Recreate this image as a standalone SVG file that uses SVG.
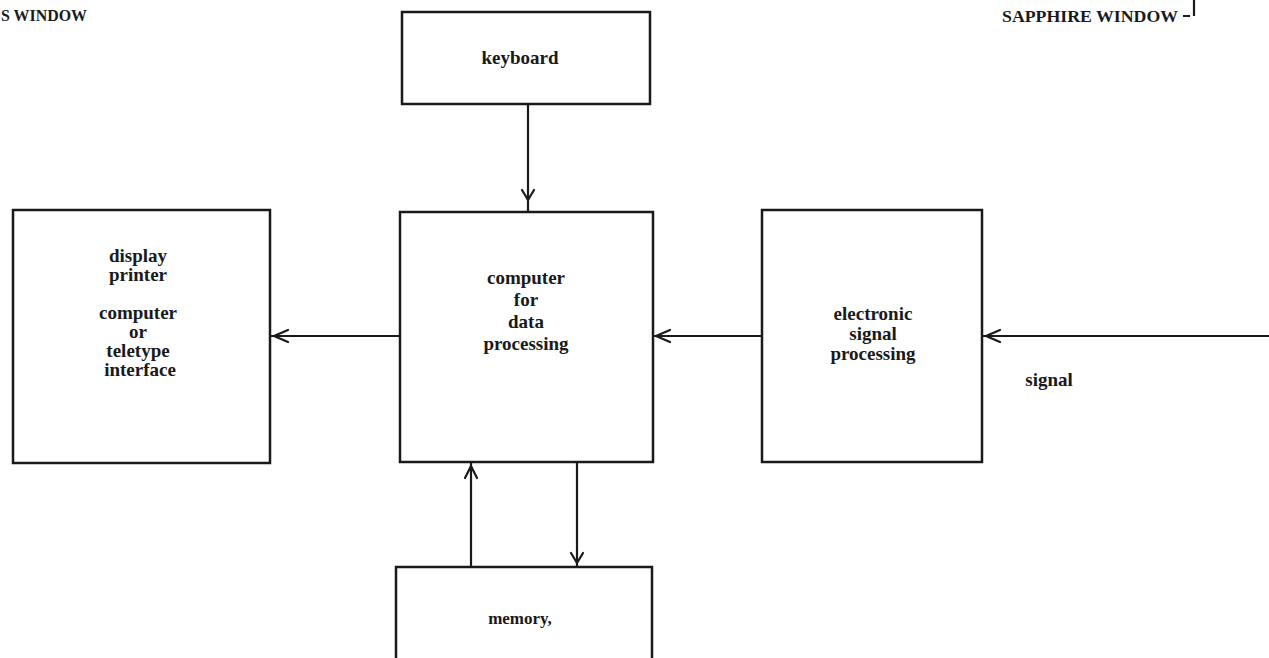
<svg xmlns="http://www.w3.org/2000/svg" width="1269" height="658" viewBox="0 0 1269 658">
<style>
.box{fill:none;stroke:#1a1a1a;stroke-width:2.5}
.ln{fill:none;stroke:#1a1a1a;stroke-width:2.2}
.ah{fill:none;stroke:#1a1a1a;stroke-width:2.2;stroke-linecap:round;stroke-linejoin:round}
.t{font-family:"Liberation Serif",serif;font-size:19px;font-weight:bold;fill:#1a1a1a;text-anchor:middle}
.hd{font-family:"Liberation Serif",serif;font-size:17px;font-weight:bold;fill:#1a1a1a}
</style>
<rect width="1269" height="658" fill="#ffffff"/>
<g id="labels">
<text class="hd" x="1" y="21" textLength="86" lengthAdjust="spacingAndGlyphs">S WINDOW</text>
<text class="hd" x="1002" y="22" textLength="176" lengthAdjust="spacingAndGlyphs">SAPPHIRE WINDOW</text>
<path class="ln" d="M1183 16 H1190 M1194 0 V16" stroke-width="1.8"/>
</g>
<g id="keyboard">
<rect class="box" x="402" y="12" width="248" height="92"/>
<text class="t" x="520" y="64">keyboard</text>
</g>
<g id="output">
<rect class="box" x="13" y="210" width="257" height="253"/>
<text class="t" x="138" y="262">display</text>
<text class="t" x="138" y="281">printer</text>
<text class="t" x="138" y="319">computer</text>
<text class="t" x="138" y="338">or</text>
<text class="t" x="138" y="357">teletype</text>
<text class="t" x="140" y="376">interface</text>
</g>
<g id="computer">
<rect class="box" x="400" y="212" width="253" height="250"/>
<text class="t" x="526" y="284">computer</text>
<text class="t" x="526" y="306">for</text>
<text class="t" x="526" y="328">data</text>
<text class="t" x="526" y="350">processing</text>
</g>
<g id="signal-processing">
<rect class="box" x="762" y="210" width="220" height="252"/>
<text class="t" x="873" y="320">electronic</text>
<text class="t" x="873" y="340">signal</text>
<text class="t" x="873" y="360">processing</text>
</g>
<g id="memory">
<path class="box" d="M396 658 V567 H652 V658"/>
<text class="t" x="520" y="624" style="font-size:17px">memory,</text>
</g>
<g id="signal-label">
<text class="t" x="1049" y="386">signal</text>
</g>
<g id="connectors">
<path class="ln" d="M528 104 V212"/>
<path class="ah" d="M522 190 L528 200 L534 190"/>
<path class="ln" d="M400 336 H270"/>
<path class="ah" d="M288 330 L274 336 L288 342"/>
<path class="ln" d="M762 336 H653"/>
<path class="ah" d="M670 330 L656 336 L670 342"/>
<path class="ln" d="M1269 336 H982"/>
<path class="ah" d="M1000 330 L986 336 L1000 342"/>
<path class="ln" d="M471 567 V462"/>
<path class="ah" d="M465 478 L471 466 L477 478"/>
<path class="ln" d="M577 462 V567"/>
<path class="ah" d="M571 553 L577 563 L583 553"/>
</g>
</svg>
